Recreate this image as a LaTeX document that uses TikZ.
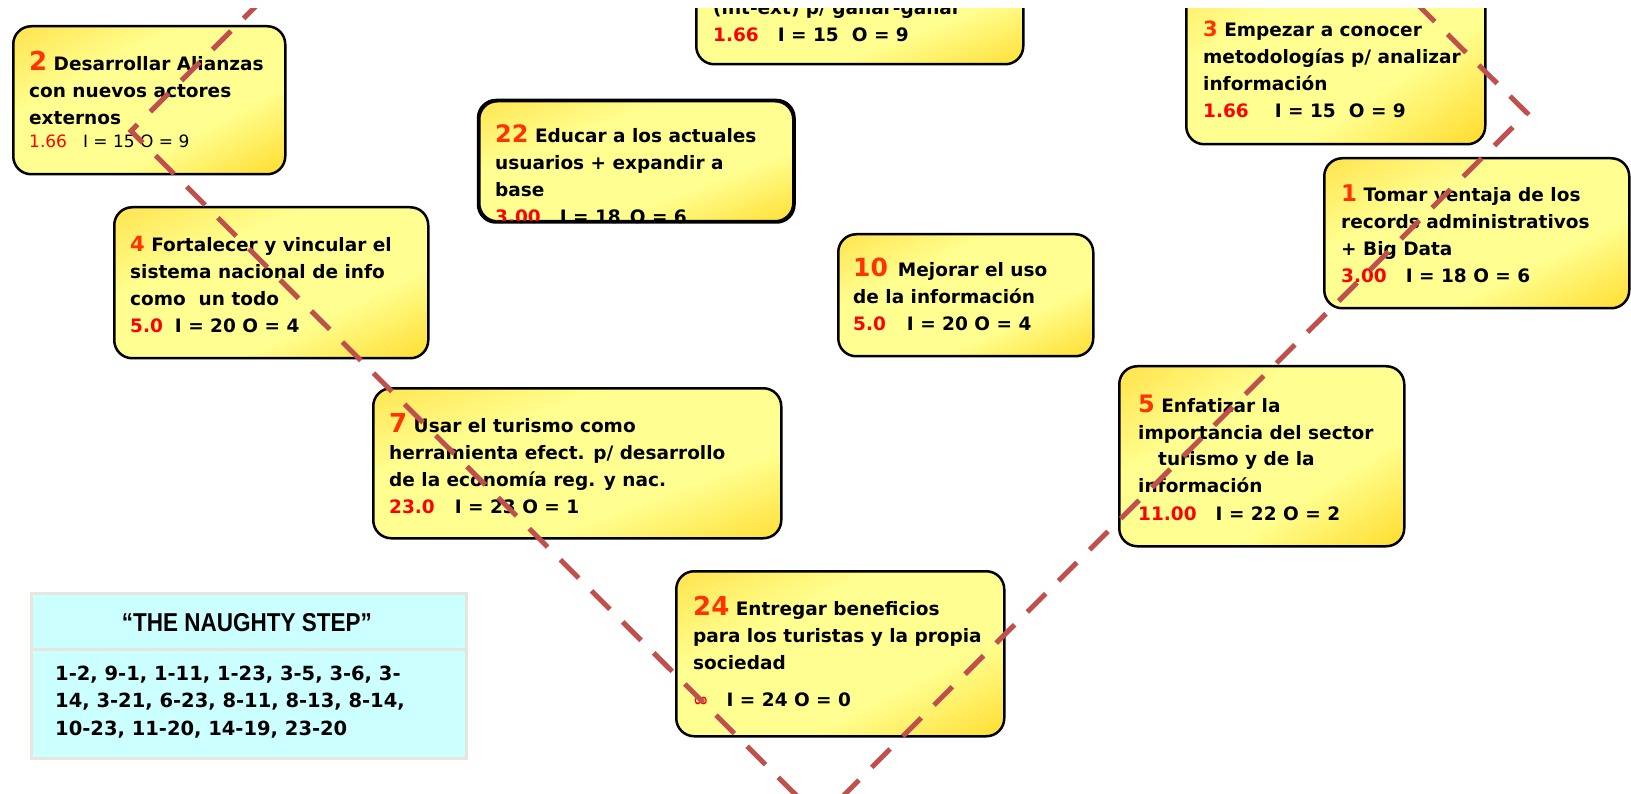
\documentclass[tikz,border=0pt]{standalone}
\usepackage{fontspec}
\usepackage{graphicx}
\setmainfont{DejaVu Sans}
\newfontfamily\hdrfont{Liberation Sans}

\definecolor{gold}{RGB}{255,204,0}
\definecolor{goldtl}{RGB}{255,214,45}
\definecolor{pale}{RGB}{255,255,145}
\definecolor{numred}{RGB}{255,51,0}
\definecolor{statred}{RGB}{255,0,0}
\definecolor{vred}{RGB}{192,80,77}
\definecolor{tcyan}{RGB}{204,255,255}
\definecolor{tborder}{RGB}{230,230,220}

\pgfdeclareverticalshading{ygrad}{100bp}{color(0bp)=(gold); color(6bp)=(gold); color(37bp)=(pale); color(63bp)=(pale); color(94bp)=(goldtl); color(100bp)=(goldtl)}

\tikzset{
  ybox/.style={draw=black, line width=2.5pt, rounded corners=18pt,
    shade, shading=ygrad, inner sep=0pt, anchor=north west},
  bline/.style={draw=black, line width=2.5pt, rounded corners=18pt},
  txt/.style={anchor=base west, inner sep=0pt},
  tcell/.style={draw=tborder, line width=3pt, fill=tcyan, inner sep=0pt, anchor=north west},
  vline/.style={draw=vred, line width=5pt, dash pattern=on 26pt off 18pt},
}
\newcommand{\bnum}[2][26]{{\fontsize{#1}{27}\selectfont\color{numred}#2}}
\newcommand{\snum}[1]{{\color{statred}#1}}
\newcommand{\btext}[1]{\parbox[t]{420pt}{\raggedright\fontsize{18.5}{27}\selectfont\bfseries\leavevmode #1}}

\begin{document}
\begin{tikzpicture}[x=1pt,y=-1pt]
\fill[white] (0,0) rectangle (1631,794);
\useasboundingbox (0,0) rectangle (1631,794);
\begin{scope}
\clip (0,9) rectangle (1631,794);

% boxes (shading angle = atan(height/width), so the gradient runs corner to corner)
\node[ybox, minimum width=272pt, minimum height=148pt, shading angle=28.5] (b2) at (12,25) {};
\node[ybox, minimum width=327pt, minimum height=123pt, shading angle=20.6] (btop) at (695,-60) {};
\node[ybox, minimum width=299pt, minimum height=203pt, shading angle=34.2] (b3) at (1185,-60) {};
\node[ybox, minimum width=305pt, minimum height=150pt, shading angle=26.2] (b1) at (1323,157) {};
\node[ybox, minimum width=314pt, minimum height=151pt, shading angle=25.7] (b4) at (113,206) {};
\node[ybox, minimum width=314pt, minimum height=120pt, shading angle=20.9] (b22) at (478,100) {};
\node[ybox, minimum width=255pt, minimum height=122pt, shading angle=25.6] (b10) at (837,233) {};
\node[ybox, minimum width=408pt, minimum height=150pt, shading angle=20.2] (b7) at (372,387) {};
\node[ybox, minimum width=285pt, minimum height=180pt, shading angle=32.3] (b5) at (1118,365) {};
\node[ybox, minimum width=328pt, minimum height=165pt, shading angle=26.7] (b24) at (675,570) {};

% texts
\node[txt] (t2) at (29,71) {\btext{\bnum{2} Desarrollar Alianzas\\con nuevos actores\\externos\\[-4pt]{\fontsize{17}{20}\selectfont\mdseries\snum{1.66}\hspace{16pt}I = 15 O = 9}}};
\node[txt] (ttop) at (713,15) {\btext{(int-ext) p/ ganar-ganar\\\snum{1.66}\hspace{19pt}I = 15\hspace{13pt}O = 9}};
\node[txt] (t3) at (1203,37) {\btext{\bnum[21]{3} Empezar a conocer\\metodologías p/ analizar\\información\\\snum{1.66}\hspace{26pt}I = 15\hspace{13pt}O = 9}};
\node[txt] (t1) at (1341,202) {\btext{\bnum[23]{1} Tomar ventaja de los\\records administrativos\\+ Big Data\\\snum{3.00}\hspace{19pt}I = 18 O = 6}};
\node[txt] (t4) at (130,252) {\btext{\bnum[21]{4} Fortalecer y vincular el\\sistema nacional de info\\como\ \ un todo\\\snum{5.0}\hspace{12pt}I = 20 O = 4}};
\node[txt] (t22) at (495,143) {\btext{\bnum[24]{22} Educar a los actuales\\usuarios + expandir a\\base\\\snum{3.00}\hspace{19pt}I = 18\hspace{9pt}O = 6}};
\node[txt] (t10) at (853,277) {\btext{\bnum[25]{10}\hspace{10pt}Mejorar el uso\\de la información\\\snum{5.0}\hspace{21pt}I = 20 O = 4}};
\node[txt] (t7) at (389,432) {\btext{\bnum{7} Usar el turismo como\\herramienta efect. p/ desarrollo\\de la economía reg. y nac.\\\snum{23.0}\hspace{20pt}I = 23 O = 1}};
\node[txt] (t5) at (1138,412) {\btext{\bnum[24]{5} Enfatizar la\\importancia del sector\\\hspace*{20pt}turismo y de la\\información\\\snum{11.00}\hspace{19pt}I = 22 O = 2}};
\node[txt] (t24) at (693,615) {\btext{\bnum{24} Entregar beneficios\\para los turistas y la propia\\sociedad\\[10pt]{\color{statred}∞}\hspace{18pt}I = 24 O = 0}};

% border of box 22 runs over its last line
\draw[bline] (b22.south west) rectangle (b22.north east);

% table
\node[tcell, minimum width=435pt, minimum height=56pt] (th) at (30,592) {};
\node[tcell, minimum width=435pt, minimum height=109pt] (tb) at (30,648) {};
\node[anchor=base, inner sep=0pt] (tht) at (247,631) {\hdrfont\bfseries\fontsize{22.5}{24}\selectfont\scalebox{1}[1.15]{“THE NAUGHTY STEP”}};
\node[txt] (tbt) at (55,680) {\parbox[t]{420pt}{\raggedright\fontsize{19.5}{27.5}\selectfont\bfseries\leavevmode 1-2, 9-1, 1-11, 1-23, 3-5, 3-6, 3-\\14, 3-21, 6-23, 8-11, 8-13, 8-14,\\10-23, 11-20, 14-19, 23-20}};

% dashed V line
\coordinate (v1) at (262,0);
\coordinate (v2) at (131,131);
\coordinate (v3) at (820,819);
\coordinate (v4) at (1527,113);
\coordinate (v5) at (1413,0);
\draw[vline] (v1) -- (v2) -- (v3) -- (v4) -- (v5);
\end{scope}
\end{tikzpicture}
\end{document}
